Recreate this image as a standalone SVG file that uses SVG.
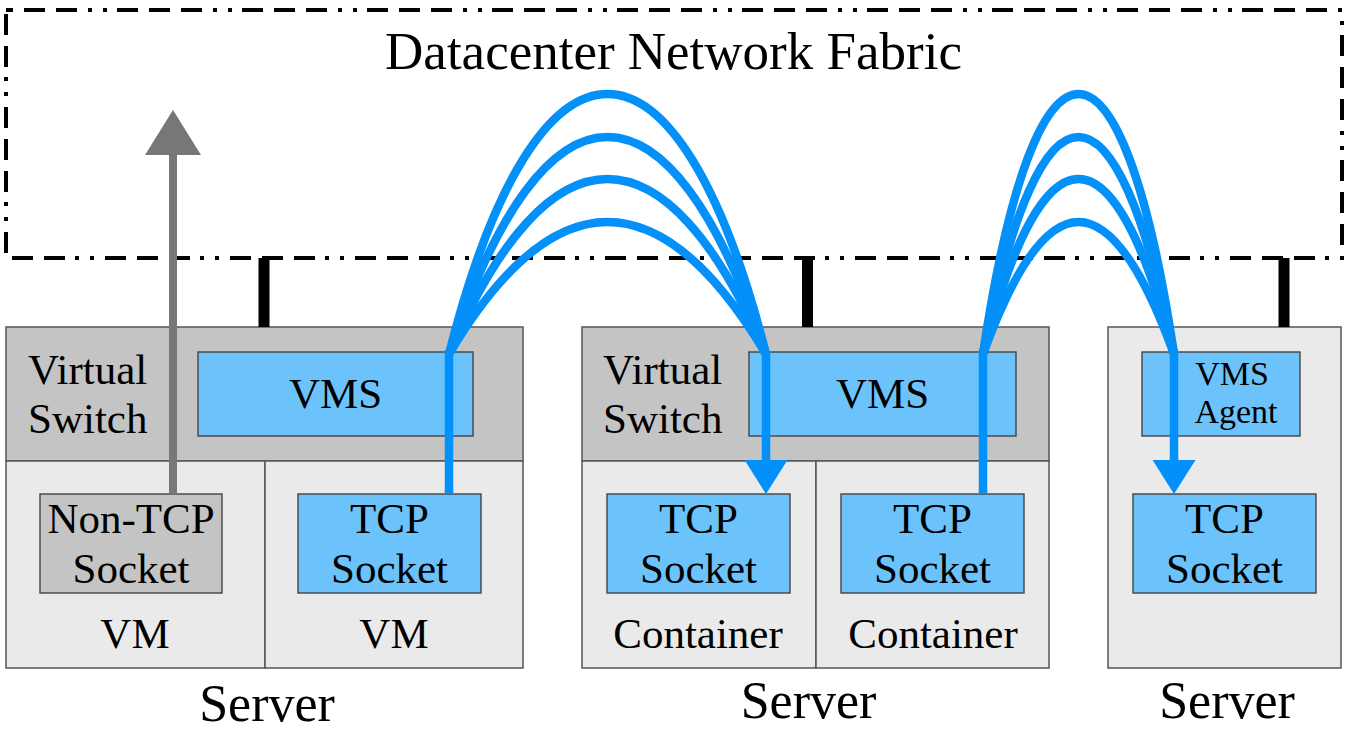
<svg xmlns="http://www.w3.org/2000/svg" width="1349" height="732" viewBox="0 0 1349 732">
<style>
text{font-family:"Liberation Serif","Times New Roman",serif;fill:#000}
.lbl{font-size:43px}
.mid{text-anchor:middle}
.sw{fill:#C4C4C4;stroke:#555;stroke-width:1.5}
.vm{fill:#EAEAEA;stroke:#555;stroke-width:1.5}
.bl{fill:#6CC3FB;stroke:#444;stroke-width:1.4}
.gr{fill:#C4C4C4;stroke:#444;stroke-width:1.4}
.flow{fill:none;stroke:#0390F8;stroke-width:8.5}
.link{fill:#000}
</style>
<defs>
<marker id="blueHead" markerUnits="userSpaceOnUse" markerWidth="34" markerHeight="43" viewBox="0 0 34 43" refX="0" refY="21.5" orient="auto">
<path d="M0,0 L34,21.5 L0,43 z" fill="#0390F8"/>
</marker>
<marker id="grayHead" markerUnits="userSpaceOnUse" markerWidth="45" markerHeight="56" viewBox="0 0 45 56" refX="0" refY="28" orient="auto">
<path d="M0,0 L45,28 L0,56 z" fill="#777777"/>
</marker>
</defs>

<g id="fabric">
<rect x="6" y="10" width="1336" height="248" fill="none" stroke="#000" stroke-width="4" stroke-dasharray="21 11 21 11 21 11 4 11 4 10" stroke-dashoffset="14"/>
<text x="673.5" y="69" class="mid" style="font-size:53px">Datacenter Network Fabric</text>
</g>

<g id="server1">
<rect class="sw" x="6" y="327" width="517" height="134"/>
<rect class="vm" x="6" y="461" width="259" height="207"/>
<rect class="vm" x="265" y="461" width="258" height="207"/>
<text class="lbl" x="28" y="384">Virtual</text>
<text class="lbl" x="28" y="433">Switch</text>
<text class="lbl mid" x="135" y="648">VM</text>
<text class="lbl mid" x="394" y="648">VM</text>
<text class="mid" x="267" y="721" style="font-size:52px">Server</text>
</g>
<g id="vms1">
<rect class="bl" x="198" y="352" width="275" height="84"/>
<text class="lbl mid" x="335.5" y="408">VMS</text>
</g>
<g id="nontcp1">
<rect class="gr" x="40" y="494" width="182" height="99"/>
<text class="lbl mid" x="131" y="533">Non-TCP</text>
<text class="lbl mid" x="131" y="583">Socket</text>
</g>
<g id="tcp1">
<rect class="bl" x="298" y="494" width="183" height="99"/>
<text class="lbl mid" x="389.5" y="533">TCP</text>
<text class="lbl mid" x="389.5" y="583">Socket</text>
</g>

<g id="server2">
<rect class="sw" x="582" y="327" width="467" height="134"/>
<rect class="vm" x="582" y="461" width="234" height="207"/>
<rect class="vm" x="816" y="461" width="233" height="207"/>
<text class="lbl" x="603" y="384">Virtual</text>
<text class="lbl" x="603" y="433">Switch</text>
<text class="lbl mid" x="698" y="648">Container</text>
<text class="lbl mid" x="933" y="648">Container</text>
<text class="mid" x="808.5" y="718" style="font-size:52px">Server</text>
</g>
<g id="vms2">
<rect class="bl" x="749" y="352" width="267" height="84"/>
<text class="lbl mid" x="882.5" y="408">VMS</text>
</g>
<g id="tcp2a">
<rect class="bl" x="607" y="494" width="183" height="99"/>
<text class="lbl mid" x="698.5" y="533">TCP</text>
<text class="lbl mid" x="698.5" y="583">Socket</text>
</g>
<g id="tcp2b">
<rect class="bl" x="841" y="494" width="183" height="99"/>
<text class="lbl mid" x="932.5" y="533">TCP</text>
<text class="lbl mid" x="932.5" y="583">Socket</text>
</g>

<g id="server3">
<rect class="vm" x="1108" y="327" width="233" height="341"/>
<text class="mid" x="1227" y="718" style="font-size:52px">Server</text>
</g>
<g id="agent3">
<rect class="bl" x="1142" y="352" width="158" height="84"/>
<text class="mid" x="1232" y="385" style="font-size:34px">VMS</text>
<text class="mid" x="1236" y="423" style="font-size:34px">Agent</text>
</g>
<g id="tcp3">
<rect class="bl" x="1133" y="494" width="183" height="99"/>
<text class="lbl mid" x="1224.5" y="533">TCP</text>
<text class="lbl mid" x="1224.5" y="583">Socket</text>
</g>

<g id="connectors">
<rect class="link" x="258.5" y="258" width="11" height="69"/>
<rect class="link" x="802" y="258" width="11" height="69"/>
<rect class="link" x="1278.5" y="258" width="11" height="69"/>
<line x1="173" y1="494" x2="173" y2="155" stroke="#777777" stroke-width="8" marker-end="url(#grayHead)"/>
<path class="flow" d="M449 494 V350"/>
<path class="flow" d="M449 354 C537 7.3 678 7.3 766 354"/>
<path class="flow" d="M449 354 C544 64.7 671 64.7 766 354"/>
<path class="flow" d="M449 354 C549 120.7 666 120.7 766 354"/>
<path class="flow" d="M449 354 C554 178 661 178 766 354"/>
<path class="flow" d="M766 352 V460" marker-end="url(#blueHead)"/>
<path class="flow" d="M983 494 V350"/>
<path class="flow" d="M983 354 C1035 7.3 1122 7.3 1174 354"/>
<path class="flow" d="M983 354 C1040 64.7 1117 64.7 1174 354"/>
<path class="flow" d="M983 354 C1043 120.7 1114 120.7 1174 354"/>
<path class="flow" d="M983 354 C1047 178 1110 178 1174 354"/>
<path class="flow" d="M1174 352 V460" marker-end="url(#blueHead)"/>
</g>
</svg>
